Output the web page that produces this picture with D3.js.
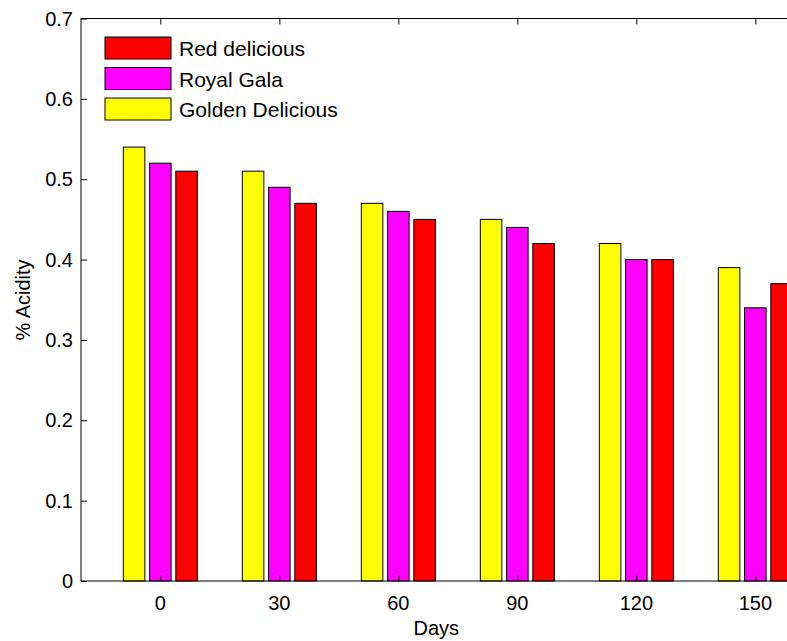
<!DOCTYPE html>
<html>
<head>
  <title>Acidity bar chart</title>
  <script src="https://d3js.org/d3.v7.min.js"></script>
  <style>
    body { margin: 0; background: #fff; }
    text { font-family: Arial, "Liberation Sans", sans-serif; fill: #000; }
  </style>
</head>
<body>
<script>
// data
var days = [0, 30, 60, 90, 120, 150];
var golden = [0.54, 0.51, 0.47, 0.45, 0.42, 0.39];
var royal = [0.52, 0.49, 0.46, 0.44, 0.40, 0.34];
var red = [0.51, 0.47, 0.45, 0.42, 0.40, 0.37];
var seriesNames = ["Golden Delicious", "Royal Gala", "Red delicious"];
var seriesColors = ["#ffff00", "#ff00ff", "#ff0000"];
var yTicks = [0, 0.1, 0.2, 0.3, 0.4, 0.5, 0.6, 0.7];

var series = [golden, royal, red];

var W = 787, H = 641;
var mLeft = 81, mTop = 18.5, mBottom = 581;

var svg = d3.select("body").append("svg")
    .attr("width", W)
    .attr("height", H);

// x runs past the right edge of the picture (plot is cropped there)
var x = d3.scaleLinear().domain([-20, 170]).range([mLeft, mLeft + 190 * 119 / 30]);
var y = d3.scaleLinear().domain([0, 0.7]).range([mBottom, mTop]);

var inner = d3.scaleBand()
    .domain(d3.range(series.length))
    .range([-37, 37])
    .paddingInner(0.18);

// bars
series.forEach(function(vals, si) {
  svg.append("g").selectAll("rect")
    .data(vals)
    .enter().append("rect")
      .attr("x", function(d, i) { return x(days[i]) + inner(si); })
      .attr("y", function(d) { return y(d); })
      .attr("width", inner.bandwidth())
      .attr("height", function(d) { return y(0) - y(d); })
      .attr("fill", seriesColors[si])
      .attr("stroke", "#000")
      .attr("stroke-width", 1);
});

// axes (ticks inside, box)
var xr = x.range();
svg.append("rect")
    .attr("x", xr[0]).attr("y", mTop)
    .attr("width", xr[1] - xr[0]).attr("height", mBottom - mTop)
    .attr("fill", "none").attr("stroke", "#000");

svg.append("g")
    .attr("transform", "translate(0," + mBottom + ")")
    .call(d3.axisTop(x).tickValues(days).tickSize(6).tickFormat(""))
    .call(function(g) { g.select(".domain").remove(); });

svg.append("g")
    .attr("transform", "translate(0," + mTop + ")")
    .call(d3.axisBottom(x).tickValues(days).tickSize(6).tickFormat(""))
    .call(function(g) { g.select(".domain").remove(); });

svg.append("g")
    .attr("transform", "translate(" + mLeft + ",0)")
    .call(d3.axisRight(y).tickValues(yTicks).tickSize(6).tickFormat(""))
    .call(function(g) { g.select(".domain").remove(); });

// tick labels
svg.append("g").selectAll("text")
    .data(days)
    .enter().append("text")
      .attr("x", function(d) { return x(d); })
      .attr("y", 610)
      .attr("text-anchor", "middle")
      .style("font-size", "20px")
      .text(function(d) { return d; });

svg.append("g").selectAll("text")
    .data(yTicks)
    .enter().append("text")
      .attr("x", 73)
      .attr("y", function(d) { return y(d) + 7; })
      .attr("text-anchor", "end")
      .style("font-size", "20px")
      .text(function(d) { return d === 0 ? "0" : d3.format(".1f")(d); });

// axis titles
svg.append("text")
    .attr("x", x(60) + 38)
    .attr("y", 635)
    .attr("text-anchor", "middle")
    .style("font-size", "20px")
    .text("Days");

svg.append("text")
    .attr("transform", "translate(30,300) rotate(-90)")
    .attr("text-anchor", "middle")
    .style("font-size", "20px")
    .text("% Acidity");

// legend (order as shown: Red, Royal, Golden)
var legendOrder = [2, 1, 0];
var lg = svg.append("g");
legendOrder.forEach(function(si, k) {
  var yy = 37 + k * 30.5;
  lg.append("rect")
      .attr("x", 105).attr("y", yy)
      .attr("width", 66).attr("height", 22)
      .attr("fill", seriesColors[si])
      .attr("stroke", "#000");
  lg.append("text")
      .attr("x", 179).attr("y", yy + 19)
      .style("font-size", "21px")
      .text(seriesNames[si]);
});
</script>
</body>
</html>
